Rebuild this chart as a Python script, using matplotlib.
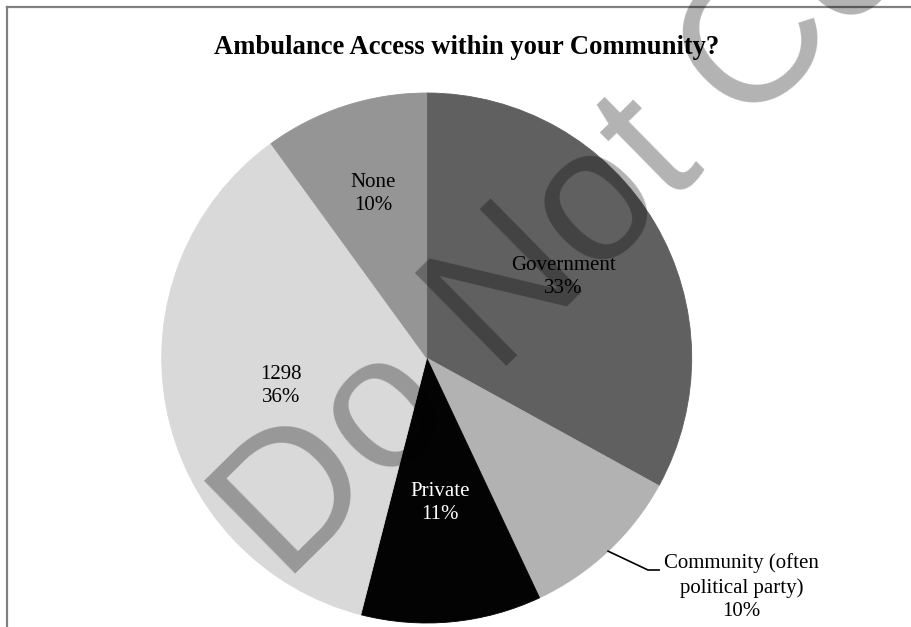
import numpy as np
import matplotlib.pyplot as plt
from matplotlib.lines import Line2D

# survey answers, clockwise from 12 o'clock
categories = ['Government', 'Community (often\npolitical party)', 'Private', '1298', 'None']
shares = [33, 10, 11, 36, 10]
colors = ['#606060', '#b2b2b2', '#030303', '#d9d9d9', '#959595']
text_colors = ['black', 'black', 'white', 'black', 'black']
label_r = [0.60, None, 0.55, 0.56, 0.65]   # None -> label sits outside with a leader

W, H = 912, 627
cx, cy, R = 426.7, 358.0, 265.0   # pie centre / radius in pixels

fig = plt.figure(figsize=(W / 100, H / 100), dpi=100)
ax = fig.add_axes([0, 0, 1, 1])

wedges, _ = ax.pie(shares, colors=colors, startangle=90, counterclock=False, radius=1)
for w, c in zip(wedges, colors):
    w.set_edgecolor(c)
    w.set_linewidth(0.6)
ax.set_xlim(-cx / R, (W - cx) / R)
ax.set_ylim(-(H - cy) / R, cy / R)
ax.set_aspect('equal')
ax.axis('off')

serif = ['Liberation Serif', 'DejaVu Serif']
for w, name, val, tc, r in zip(wedges, categories, shares, text_colors, label_r):
    mid = np.deg2rad((w.theta1 + w.theta2) / 2)
    txt = f'{name}\n{val}%'
    if r is not None:
        ax.text(r * np.cos(mid), r * np.sin(mid), txt, ha='center', va='center',
                fontsize=15, family=serif, color=tc, linespacing=1.32)
    else:
        x0, y0 = np.cos(mid), np.sin(mid)
        ax.add_line(Line2D([x0, 0.835, 0.877], [y0, -0.800, -0.800],
                           color='black', lw=1.2))
        ax.text(0.895, -0.866, txt, ha='left', va='center', ma='center',
                fontsize=15, family=serif, color=tc, linespacing=1.32)

fig.text(467 / W, 1 - 47 / H, 'Ambulance Access within your Community?',
         ha='center', va='center', fontsize=19.2, fontweight='bold', family=serif)

# chart area border (top and left edges)
fig.add_artist(Line2D([7 / W, 1], [1 - 7 / H, 1 - 7 / H], transform=fig.transFigure,
                      color='#808080', lw=1.6))
fig.add_artist(Line2D([7 / W, 7 / W], [0, 1 - 7 / H], transform=fig.transFigure,
                      color='#808080', lw=1.6))

# watermark
fig.text(285 / W, 1 - 584 / H, 'Do Not Copy', rotation=44.5, rotation_mode='anchor',
         ha='left', va='baseline', fontsize=137, family=['Liberation Sans', 'DejaVu Sans'],
         color='black', alpha=0.3, zorder=10)

fig.savefig('out.png', dpi=100)
